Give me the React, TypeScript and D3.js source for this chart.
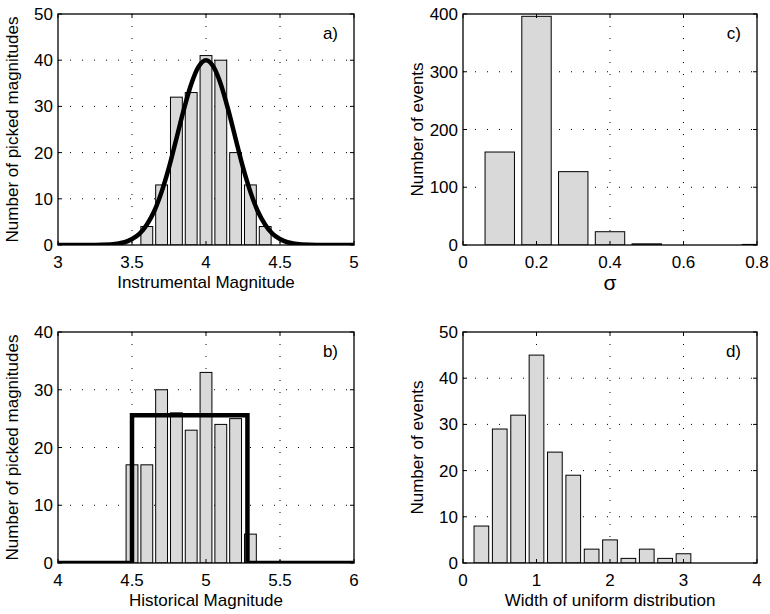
import React from 'react';
import * as d3 from 'd3';

// panel a) instrumental magnitudes
const instCenters = [3.6, 3.7, 3.8, 3.9, 4.0, 4.1, 4.2, 4.3, 4.4];
const instCounts = [4, 13, 32, 33, 41, 40, 20, 13, 4];
const fitX = [3.0, 3.2, 3.3, 3.4, 3.45, 3.5, 3.55, 3.6, 3.65, 3.7, 3.75, 3.8, 3.85, 3.9, 3.95, 4.0,
  4.05, 4.1, 4.15, 4.2, 4.25, 4.3, 4.35, 4.4, 4.45, 4.5, 4.55, 4.6, 4.7, 4.8, 5.0];
const fitY = [0, 0, 0.05, 0.3, 0.6, 1.3, 2.4, 4.4, 7.3, 11.5, 16.8, 23.0, 29.3, 34.8, 38.6, 40,
  38.6, 34.8, 29.3, 23.0, 16.8, 11.5, 7.3, 4.4, 2.4, 1.3, 0.6, 0.3, 0.05, 0, 0];

// panel b) historical magnitudes
const histCenters = [4.5, 4.6, 4.7, 4.8, 4.9, 5.0, 5.1, 5.2, 5.3];
const histCounts = [17, 17, 30, 26, 23, 33, 24, 25, 5];
const unifX = [4, 4.5, 4.5, 5.28, 5.28, 6];
const unifY = [0, 0, 25.6, 25.6, 0, 0];

// panel c) sigma
const sigmaCenters = [0.1, 0.2, 0.3, 0.4, 0.5, 0.6, 0.7, 0.8];
const sigmaCounts = [161, 396, 127, 23, 2, 0, 0, 1];

// panel d) width of uniform distribution
const widthCenters = [0.25, 0.5, 0.75, 1.0, 1.25, 1.5, 1.75, 2.0, 2.25, 2.5, 2.75, 3.0, 3.25, 3.5, 3.75, 4.0];
const widthCounts = [8, 29, 32, 45, 24, 19, 3, 5, 1, 3, 1, 2, 0, 0, 0, 0];

const ticksA = { x: [3, 3.5, 4, 4.5, 5], y: [0, 10, 20, 30, 40, 50] };
const ticksB = { x: [4, 4.5, 5, 5.5, 6], y: [0, 10, 20, 30, 40] };
const ticksC = { x: [0, 0.2, 0.4, 0.6, 0.8], y: [0, 100, 200, 300, 400] };
const ticksD = { x: [0, 1, 2, 3, 4], y: [0, 10, 20, 30, 40, 50] };

const FONT = 'Liberation Sans, Arial, Helvetica, sans-serif';
const FS = 17;

type PanelProps = {
  id: string;
  left: number; right: number; top: number; bottom: number;
  xDomain: [number, number]; yDomain: [number, number];
  ticks: { x: number[]; y: number[] };
  centers: number[]; counts: number[]; binWidth: number;
  lineX?: number[]; lineY?: number[]; smooth?: boolean;
  letter: string; xLabel: string; yLabel: string; xLabelSize?: number; xLabelDy?: number;
};

const Panel = (p: PanelProps) => {
  const x = d3.scaleLinear().domain(p.xDomain).range([p.left, p.right]);
  const y = d3.scaleLinear().domain(p.yDomain).range([p.bottom, p.top]);
  const bw = p.binWidth * 0.8;
  let linePath: string | null = null;
  if (p.lineX && p.lineY) {
    const pts = p.lineX.map((v, i) => [v, p.lineY![i]] as [number, number]);
    const gen = d3.line<[number, number]>().x(d => x(d[0])).y(d => y(d[1]));
    if (p.smooth) gen.curve(d3.curveMonotoneX);
    linePath = gen(pts);
  }
  const tl = 4;
  return (
    <g>
      <defs>
        <clipPath id={'clip-' + p.id}>
          <rect x={p.left} y={p.top} width={p.right - p.left} height={p.bottom - p.top} />
        </clipPath>
      </defs>
      {/* grid */}
      {p.ticks.x.slice(1, -1).map(t => (
        <line key={'gx' + t} x1={x(t)} x2={x(t)} y1={p.top} y2={p.bottom}
          stroke="#000" strokeWidth={1} strokeDasharray="1,11" />
      ))}
      {p.ticks.y.slice(1, -1).map(t => (
        <line key={'gy' + t} x1={p.left} x2={p.right} y1={y(t)} y2={y(t)}
          stroke="#000" strokeWidth={1} strokeDasharray="1,11" />
      ))}
      <g clipPath={`url(#clip-${p.id})`}>
        {p.centers.map((c, i) => (
          <rect key={'b' + i} x={x(c - bw / 2)} y={y(p.counts[i])}
            width={x(c + bw / 2) - x(c - bw / 2)} height={y(0) - y(p.counts[i])}
            fill="#d9d9d9" stroke="#000" strokeWidth={1} />
        ))}
        {linePath && <path d={linePath} fill="none" stroke="#000" strokeWidth={4.5} strokeLinejoin="miter" />}
      </g>
      {/* ticks */}
      {p.ticks.x.map(t => (
        <g key={'tx' + t}>
          <line x1={x(t)} x2={x(t)} y1={p.bottom} y2={p.bottom - tl} stroke="#000" />
          <line x1={x(t)} x2={x(t)} y1={p.top} y2={p.top + tl} stroke="#000" />
          <text x={x(t)} y={p.bottom + 23} textAnchor="middle" fontSize={FS} fontFamily={FONT}>{String(t)}</text>
        </g>
      ))}
      {p.ticks.y.map(t => (
        <g key={'ty' + t}>
          <line x1={p.left} x2={p.left + tl} y1={y(t)} y2={y(t)} stroke="#000" />
          <line x1={p.right} x2={p.right - tl} y1={y(t)} y2={y(t)} stroke="#000" />
          <text x={p.left - 5} y={y(t) + 6} textAnchor="end" fontSize={FS} fontFamily={FONT}>{String(t)}</text>
        </g>
      ))}
      <rect x={p.left} y={p.top} width={p.right - p.left} height={p.bottom - p.top}
        fill="none" stroke="#000" strokeWidth={1.3} />
      <text x={p.right - 16} y={p.top + 25} textAnchor="end" fontSize={FS} fontFamily={FONT}>{p.letter}</text>
      <text x={(p.left + p.right) / 2} y={p.bottom + (p.xLabelDy || 43)} textAnchor="middle"
        fontSize={p.xLabelSize || FS} fontFamily={FONT}>{p.xLabel}</text>
      <text transform={`translate(${p.left - 40},${(p.top + p.bottom) / 2}) rotate(-90)`}
        textAnchor="middle" fontSize={FS} fontFamily={FONT}>{p.yLabel}</text>
    </g>
  );
};

const App = () => {
  return (
    <svg width={770} height={614} style={{ position: 'absolute', left: 0, top: 0, background: '#fff' }}>
      <rect width={770} height={614} fill="#fff" />
      <Panel id="a" left={58} right={354} top={14} bottom={245} xDomain={[3, 5]} yDomain={[0, 50]}
        ticks={ticksA} centers={instCenters} counts={instCounts} binWidth={0.1}
        lineX={fitX} lineY={fitY} smooth letter="a)" xLabel="Instrumental Magnitude"
        yLabel="Number of picked magnitudes" />
      <Panel id="c" left={463} right={757} top={14} bottom={245} xDomain={[0, 0.8]} yDomain={[0, 400]}
        ticks={ticksC} centers={sigmaCenters} counts={sigmaCounts} binWidth={0.1}
        letter="c)" xLabel="σ" xLabelSize={21} xLabelDy={45} yLabel="Number of events" />
      <Panel id="b" left={58} right={354} top={332} bottom={563} xDomain={[4, 6]} yDomain={[0, 40]}
        ticks={ticksB} centers={histCenters} counts={histCounts} binWidth={0.1}
        lineX={unifX} lineY={unifY} letter="b)" xLabel="Historical Magnitude"
        yLabel="Number of picked magnitudes" />
      <Panel id="d" left={463} right={757} top={332} bottom={563} xDomain={[0, 4]} yDomain={[0, 50]}
        ticks={ticksD} centers={widthCenters} counts={widthCounts} binWidth={0.25}
        letter="d)" xLabel="Width of uniform distribution" yLabel="Number of events" />
    </svg>
  );
};

export default App;
